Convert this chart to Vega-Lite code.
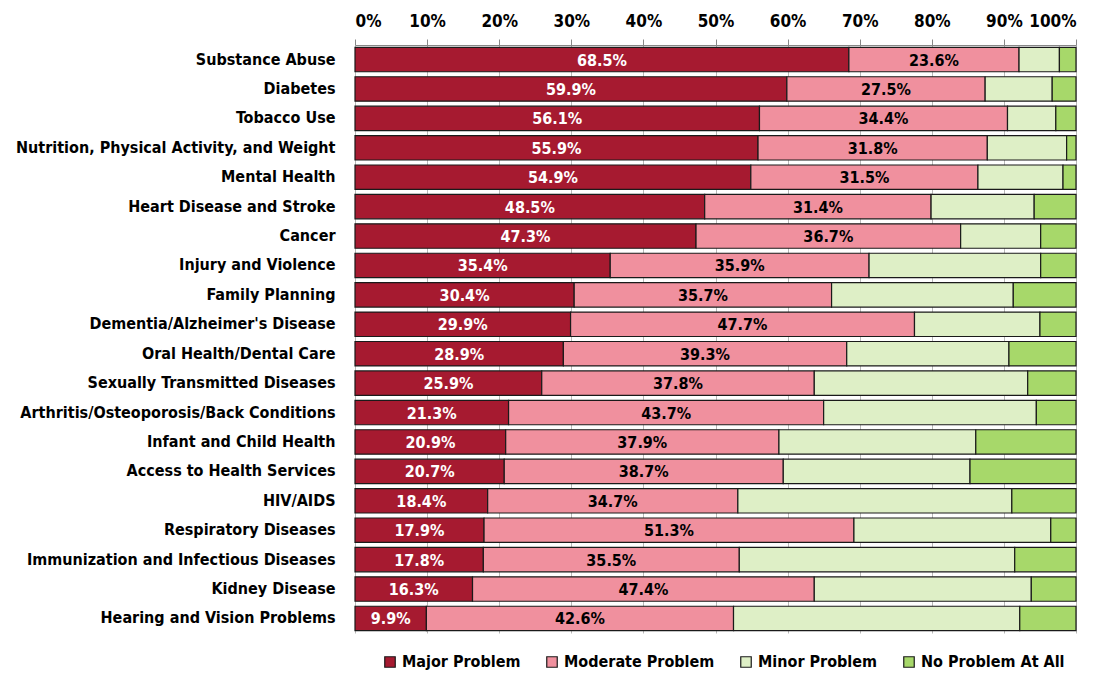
{
  "$schema": "https://vega.github.io/schema/vega-lite/v6.json",
  "autosize": "none",
  "width": 721,
  "height": 588,
  "padding": {"left": 355, "top": 45, "right": 33, "bottom": 42},
  "background": "white",
  "config": {
    "font": "'DejaVu Sans Condensed', 'Liberation Sans', sans-serif",
    "view": {"stroke": null}
  },
  "data": {
    "values": [
      {"cause": "Substance Abuse", "Major Problem": 0.685, "Moderate Problem": 0.236, "Minor Problem": 0.056, "No Problem At All": 0.023},
      {"cause": "Diabetes", "Major Problem": 0.599, "Moderate Problem": 0.275, "Minor Problem": 0.093, "No Problem At All": 0.033},
      {"cause": "Tobacco Use", "Major Problem": 0.561, "Moderate Problem": 0.344, "Minor Problem": 0.067, "No Problem At All": 0.028},
      {"cause": "Nutrition, Physical Activity, and Weight", "Major Problem": 0.559, "Moderate Problem": 0.318, "Minor Problem": 0.110, "No Problem At All": 0.013},
      {"cause": "Mental Health", "Major Problem": 0.549, "Moderate Problem": 0.315, "Minor Problem": 0.118, "No Problem At All": 0.018},
      {"cause": "Heart Disease and Stroke", "Major Problem": 0.485, "Moderate Problem": 0.314, "Minor Problem": 0.143, "No Problem At All": 0.058},
      {"cause": "Cancer", "Major Problem": 0.473, "Moderate Problem": 0.367, "Minor Problem": 0.111, "No Problem At All": 0.049},
      {"cause": "Injury and Violence", "Major Problem": 0.354, "Moderate Problem": 0.359, "Minor Problem": 0.238, "No Problem At All": 0.049},
      {"cause": "Family Planning", "Major Problem": 0.304, "Moderate Problem": 0.357, "Minor Problem": 0.252, "No Problem At All": 0.087},
      {"cause": "Dementia/Alzheimer's Disease", "Major Problem": 0.299, "Moderate Problem": 0.477, "Minor Problem": 0.174, "No Problem At All": 0.050},
      {"cause": "Oral Health/Dental Care", "Major Problem": 0.289, "Moderate Problem": 0.393, "Minor Problem": 0.225, "No Problem At All": 0.093},
      {"cause": "Sexually Transmitted Diseases", "Major Problem": 0.259, "Moderate Problem": 0.378, "Minor Problem": 0.296, "No Problem At All": 0.067},
      {"cause": "Arthritis/Osteoporosis/Back Conditions", "Major Problem": 0.213, "Moderate Problem": 0.437, "Minor Problem": 0.295, "No Problem At All": 0.055},
      {"cause": "Infant and Child Health", "Major Problem": 0.209, "Moderate Problem": 0.379, "Minor Problem": 0.273, "No Problem At All": 0.139},
      {"cause": "Access to Health Services", "Major Problem": 0.207, "Moderate Problem": 0.387, "Minor Problem": 0.259, "No Problem At All": 0.147},
      {"cause": "HIV/AIDS", "Major Problem": 0.184, "Moderate Problem": 0.347, "Minor Problem": 0.380, "No Problem At All": 0.089},
      {"cause": "Respiratory Diseases", "Major Problem": 0.179, "Moderate Problem": 0.513, "Minor Problem": 0.273, "No Problem At All": 0.035},
      {"cause": "Immunization and Infectious Diseases", "Major Problem": 0.178, "Moderate Problem": 0.355, "Minor Problem": 0.382, "No Problem At All": 0.085},
      {"cause": "Kidney Disease", "Major Problem": 0.163, "Moderate Problem": 0.474, "Minor Problem": 0.301, "No Problem At All": 0.062},
      {"cause": "Hearing and Vision Problems", "Major Problem": 0.099, "Moderate Problem": 0.426, "Minor Problem": 0.397, "No Problem At All": 0.078}
    ]
  },
  "transform": [
    {"fold": ["Major Problem", "Moderate Problem", "Minor Problem", "No Problem At All"], "as": ["category", "value"]},
    {"calculate": "indexof(['Major Problem','Moderate Problem','Minor Problem','No Problem At All'], datum.category)", "as": "order"},
    {"stack": "value", "groupby": ["cause"], "sort": [{"field": "order", "order": "ascending"}], "as": ["v0", "v1"]},
    {"calculate": "(datum.v0 + datum.v1) / 2", "as": "mid"}
  ],
  "encoding": {
    "y": {
      "field": "cause",
      "type": "nominal",
      "sort": null,
      "scale": {"paddingInner": 0.17, "paddingOuter": 0.08},
      "axis": {
        "title": null,
        "domain": false,
        "ticks": false,
        "labelPadding": 20,
        "labelFontSize": 16,
        "labelFontWeight": "bold",
        "labelColor": "black",
        "labelLimit": 400
      }
    }
  },
  "layer": [
    {
      "mark": {"type": "bar", "stroke": "#1a1a1a", "strokeWidth": 1.2},
      "encoding": {
        "x": {
          "field": "v0",
          "type": "quantitative",
          "scale": {"domain": [0, 1], "nice": false},
          "axis": {
            "orient": "top",
            "format": "%",
            "title": null,
            "values": [0, 0.1, 0.2, 0.3, 0.4, 0.5, 0.6, 0.7, 0.8, 0.9, 1],
            "labelOverlap": false,
            "domainColor": "#888888",
            "tickColor": "#888888",
            "tickSize": 6,
            "gridColor": "#b8b8b8",
            "gridWidth": 1,
            "labelFontSize": 17,
            "labelFontWeight": "bold",
            "labelColor": "black",
            "labelPadding": 9
          }
        },
        "x2": {"field": "v1"},
        "color": {
          "field": "category",
          "type": "nominal",
          "sort": ["Major Problem", "Moderate Problem", "Minor Problem", "No Problem At All"],
          "scale": {
            "domain": ["Major Problem", "Moderate Problem", "Minor Problem", "No Problem At All"],
            "range": ["#A61A30", "#F0909E", "#DEEFC6", "#A7D86A"]
          },
          "legend": {
            "title": null,
            "orient": "none",
            "legendX": 27,
            "legendY": 609,
            "direction": "horizontal",
            "symbolType": "square",
            "symbolSize": 110,
            "symbolStrokeColor": "#1a1a1a",
            "symbolStrokeWidth": 1.2,
            "labelFontSize": 16,
            "labelFontWeight": "bold",
            "labelColor": "black",
            "columnPadding": 23,
            "labelOffset": 4,
            "labelLimit": 300
          }
        }
      }
    },
    {
      "transform": [{"filter": "datum.order <= 1"}],
      "mark": {"type": "text", "fontSize": 16, "fontWeight": "bold", "dy": 1},
      "encoding": {
        "x": {"field": "mid", "type": "quantitative"},
        "text": {"field": "value", "type": "quantitative", "format": ".1%"},
        "color": {
          "condition": {"test": "datum.order === 0", "value": "white"},
          "value": "black"
        }
      }
    }
  ]
}
